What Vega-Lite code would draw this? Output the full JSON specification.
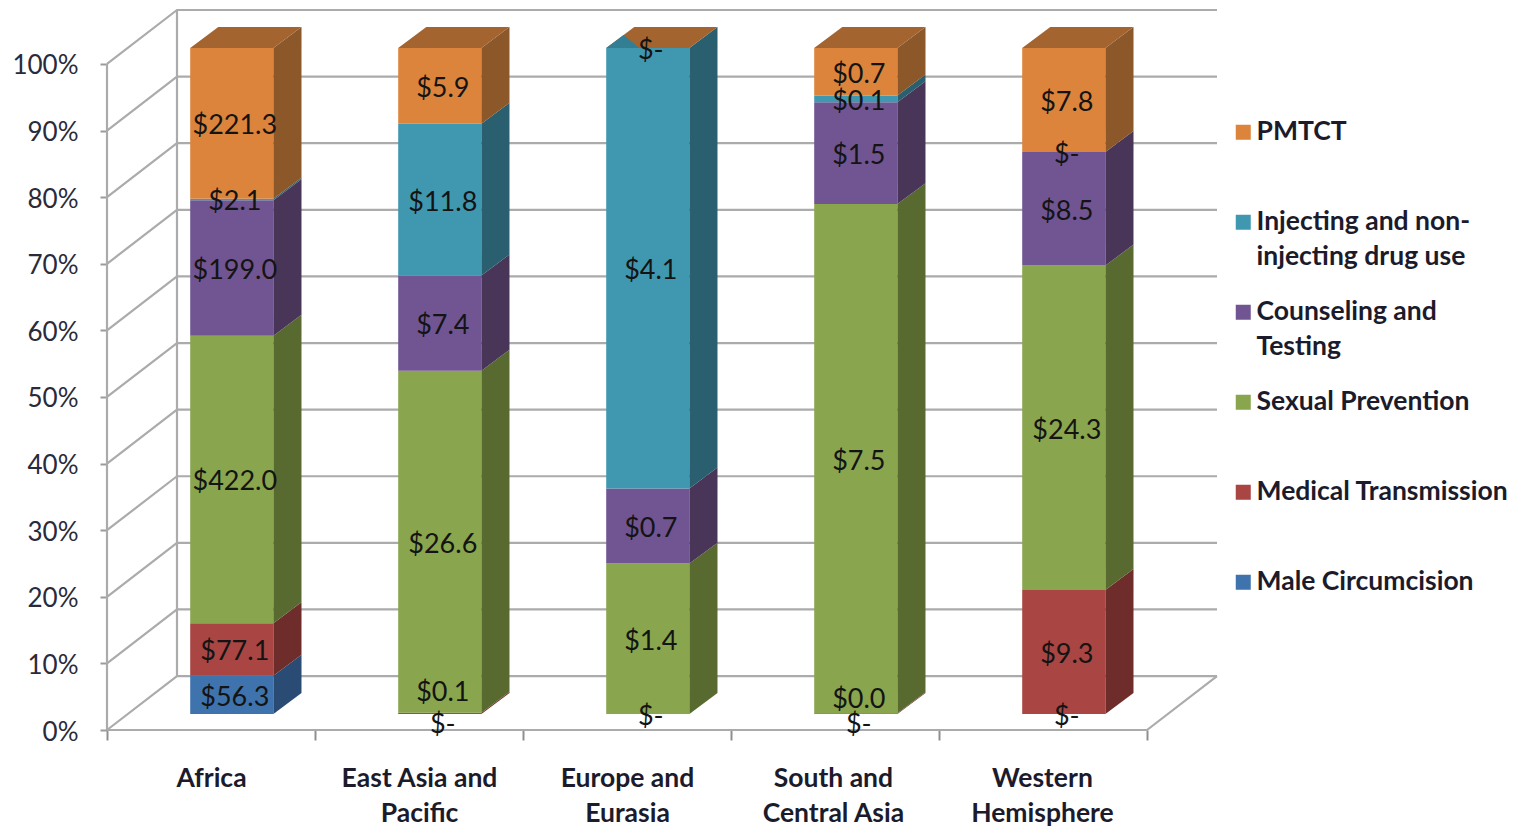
{
  "$schema": "https://vega.github.io/schema/vega-lite/v6.json",
  "width": 1111,
  "height": 720,
  "padding": {"left": 107, "top": 10, "right": 300, "bottom": 98},
  "autosize": "none",
  "background": "white",
  "config": {
    "view": {"stroke": null},
    "text": {"font": "Lato"},
    "axis": {"labelFont": "Lato", "grid": false, "domain": false, "title": null}
  },
  "datasets": {
    "spending": [
      {"region": "Africa", "measure": "Male Circumcision", "amount": 56.3, "label": "$56.3"},
      {"region": "Africa", "measure": "Medical Transmission", "amount": 77.1, "label": "$77.1"},
      {"region": "Africa", "measure": "Sexual Prevention", "amount": 422.0, "label": "$422.0"},
      {"region": "Africa", "measure": "Counseling and Testing", "amount": 199.0, "label": "$199.0"},
      {"region": "Africa", "measure": "Injecting and non-injecting drug use", "amount": 2.1, "label": "$2.1"},
      {"region": "Africa", "measure": "PMTCT", "amount": 221.3, "label": "$221.3"},
      {"region": "East Asia and Pacific", "measure": "Male Circumcision", "amount": 0, "label": "$-"},
      {"region": "East Asia and Pacific", "measure": "Medical Transmission", "amount": 0.1, "label": "$0.1"},
      {"region": "East Asia and Pacific", "measure": "Sexual Prevention", "amount": 26.6, "label": "$26.6"},
      {"region": "East Asia and Pacific", "measure": "Counseling and Testing", "amount": 7.4, "label": "$7.4"},
      {"region": "East Asia and Pacific", "measure": "Injecting and non-injecting drug use", "amount": 11.8, "label": "$11.8"},
      {"region": "East Asia and Pacific", "measure": "PMTCT", "amount": 5.9, "label": "$5.9"},
      {"region": "Europe and Eurasia", "measure": "Male Circumcision", "amount": 0, "label": "$-"},
      {"region": "Europe and Eurasia", "measure": "Medical Transmission", "amount": 0, "label": ""},
      {"region": "Europe and Eurasia", "measure": "Sexual Prevention", "amount": 1.4, "label": "$1.4"},
      {"region": "Europe and Eurasia", "measure": "Counseling and Testing", "amount": 0.7, "label": "$0.7"},
      {"region": "Europe and Eurasia", "measure": "Injecting and non-injecting drug use", "amount": 4.1, "label": "$4.1"},
      {"region": "Europe and Eurasia", "measure": "PMTCT", "amount": 0, "label": "$-"},
      {"region": "South and Central Asia", "measure": "Male Circumcision", "amount": 0, "label": "$-"},
      {"region": "South and Central Asia", "measure": "Medical Transmission", "amount": 0.01, "label": "$0.0"},
      {"region": "South and Central Asia", "measure": "Sexual Prevention", "amount": 7.5, "label": "$7.5"},
      {"region": "South and Central Asia", "measure": "Counseling and Testing", "amount": 1.5, "label": "$1.5"},
      {"region": "South and Central Asia", "measure": "Injecting and non-injecting drug use", "amount": 0.1, "label": "$0.1"},
      {"region": "South and Central Asia", "measure": "PMTCT", "amount": 0.7, "label": "$0.7"},
      {"region": "Western Hemisphere", "measure": "Male Circumcision", "amount": 0, "label": "$-"},
      {"region": "Western Hemisphere", "measure": "Medical Transmission", "amount": 9.3, "label": "$9.3"},
      {"region": "Western Hemisphere", "measure": "Sexual Prevention", "amount": 24.3, "label": "$24.3"},
      {"region": "Western Hemisphere", "measure": "Counseling and Testing", "amount": 8.5, "label": "$8.5"},
      {"region": "Western Hemisphere", "measure": "Injecting and non-injecting drug use", "amount": 0, "label": "$-"},
      {"region": "Western Hemisphere", "measure": "PMTCT", "amount": 7.8, "label": "$7.8"}
    ],
    "frame": [
      {"path": "floor", "step": 0, "col": 0, "depth": 0, "pct": 0},
      {"path": "floor", "step": 1, "col": 5, "depth": 0, "pct": 0},
      {"path": "floor", "step": 2, "col": 5, "depth": 1, "pct": 0},
      {"path": "front corner", "step": 0, "col": 0, "depth": 0, "pct": 0},
      {"path": "front corner", "step": 1, "col": 0, "depth": 0, "pct": 100},
      {"path": "back corner", "step": 0, "col": 0, "depth": 1, "pct": 0},
      {"path": "back corner", "step": 1, "col": 0, "depth": 1, "pct": 100}
    ],
    "grid": [
      {"pct": 0}, {"pct": 10}, {"pct": 20}, {"pct": 30}, {"pct": 40}, {"pct": 50},
      {"pct": 60}, {"pct": 70}, {"pct": 80}, {"pct": 90}, {"pct": 100}
    ]
  },
  "layer": [
    {
      "data": {"name": "grid"},
      "transform": [
        {"calculate": "[0, 1, 2]", "as": "step"},
        {"flatten": ["step"]},
        {"calculate": "datum.step == 0 ? 0 : datum.step == 1 ? 0.3365 : 5.3365", "as": "gx"},
        {"calculate": "datum.pct + (datum.step == 0 ? 0 : 8.1)", "as": "gy"}
      ],
      "mark": {"type": "line", "color": "#ababab", "strokeWidth": 2.2},
      "encoding": {
        "x": {
          "field": "gx", "type": "quantitative",
          "scale": {"domain": [0, 5.3413], "nice": false, "zero": false},
          "axis": {
            "values": [0, 0.5, 1, 1.5, 2, 2.5, 3, 3.49, 4, 4.495, 5],
            "tickSize": 10,
            "tickWidth": 2,
            "tickColor": "#8f8f8f",
            "tickOpacity": {"condition": {"test": "datum.value % 1 == 0", "value": 1}, "value": 0},
            "labelColor": "#1b1b2b",
            "labelFontSize": 26.5,
            "labelFontWeight": "bold",
            "labelLineHeight": 35,
            "labelPadding": 25,
            "labelOverlap": false,
            "labelFlush": false,
            "labelExpr": "datum.value == 0.5 ? 'Africa' : datum.value == 1.5 ? ['East Asia and', 'Pacific'] : datum.value == 2.5 ? ['Europe and', 'Eurasia'] : datum.value == 3.49 ? ['South and', 'Central Asia'] : datum.value == 4.495 ? ['Western', 'Hemisphere'] : ''"
          }
        },
        "y": {
          "field": "gy", "type": "quantitative",
          "scale": {"domain": [0, 108.1], "nice": false, "zero": false},
          "axis": {
            "values": [0, 10, 20, 30, 40, 50, 60, 70, 80, 90, 100],
            "labelExpr": "datum.value + '%'",
            "tickSize": 7,
            "tickWidth": 2,
            "tickColor": "#9a9a9a",
            "labelColor": "#2a2a3a",
            "labelFontSize": 26,
            "labelOffset": 2,
            "labelPadding": 22
          }
        },
        "detail": {"field": "pct"},
        "order": {"field": "step"}
      }
    },
    {
      "data": {"name": "frame"},
      "transform": [
        {"calculate": "datum.col + datum.depth * 0.3365", "as": "gx"},
        {"calculate": "datum.pct + datum.depth * 8.1", "as": "gy"}
      ],
      "mark": {"type": "line", "color": "#ababab", "strokeWidth": 2.2},
      "encoding": {
        "x": {"field": "gx", "type": "quantitative"},
        "y": {"field": "gy", "type": "quantitative"},
        "detail": {"field": "path"},
        "order": {"field": "step"}
      }
    },
    {
      "data": {"name": "spending"},
      "transform": [
        {"calculate": "indexof(['Male Circumcision','Medical Transmission','Sexual Prevention','Counseling and Testing','Injecting and non-injecting drug use','PMTCT'], datum.measure)", "as": "rank"},
        {"calculate": "indexof(['Africa','East Asia and Pacific','Europe and Eurasia','South and Central Asia','Western Hemisphere'], datum.region)", "as": "col"},
        {"stack": "amount", "groupby": ["region"], "sort": [{"field": "rank", "order": "ascending"}], "as": ["s0", "s1"], "offset": "normalize"},
        {"calculate": "datum.col + 0.4", "as": "left"},
        {"calculate": "datum.col + 0.8", "as": "right"},
        {"calculate": "datum.s0 * 100 + 2.4", "as": "low"},
        {"calculate": "datum.s1 * 100 + 2.4", "as": "high"}
      ],
      "layer": [
        {
          "mark": {"type": "rect"},
          "encoding": {
            "x": {"field": "left", "type": "quantitative"},
            "x2": {"field": "right"},
            "y": {"field": "low", "type": "quantitative"},
            "y2": {"field": "high"},
            "color": {
              "field": "measure", "type": "nominal",
              "scale": {
                "domain": ["PMTCT", "Injecting and non-injecting drug use", "Counseling and Testing", "Sexual Prevention", "Medical Transmission", "Male Circumcision"],
                "range": ["#dc843b", "#4098b0", "#715592", "#89a54e", "#a94543", "#3f73ae"]
              },
              "legend": {
                "orient": "none",
                "legendX": 1123,
                "legendY": 109,
                "title": null,
                "symbolType": "square",
                "symbolSize": 225,
                "symbolStrokeWidth": 0,
                "symbolOpacity": 1,
                "labelFont": "Lato",
                "labelFontSize": 26.5,
                "labelFontWeight": "bold",
                "labelColor": "#1b1b2b",
                "labelLimit": 320,
                "labelOffset": 0,
                "labelBaseline": "top",
                "labelExpr": "datum.label == 'Injecting and non-injecting drug use' ? ['Injecting and non-', 'injecting drug use'] : datum.label == 'Counseling and Testing' ? ['Counseling and', 'Testing'] : datum.label",
                "gridAlign": "all",
                "rowPadding": 28,
                "encoding": {"labels": {"lineHeight": {"value": 35}, "dy": {"value": -13}}}
              }
            }
          }
        },
        {
          "transform": [
            {"calculate": "[0, 1]", "as": "edge"},
            {"flatten": ["edge"]},
            {"calculate": "datum.right + datum.edge * 0.135", "as": "sx"},
            {"calculate": "datum.low + datum.edge * 3.15", "as": "sy0"},
            {"calculate": "datum.high + datum.edge * 3.15", "as": "sy1"}
          ],
          "mark": {"type": "area"},
          "encoding": {
            "x": {"field": "sx", "type": "quantitative"},
            "y": {"field": "sy0", "type": "quantitative"},
            "y2": {"field": "sy1"},
            "fill": {
              "field": "measure", "type": "nominal",
              "scale": {
                "domain": ["PMTCT", "Injecting and non-injecting drug use", "Counseling and Testing", "Sexual Prevention", "Medical Transmission", "Male Circumcision"],
                "range": ["#8c5729", "#295f6f", "#483558", "#596a31", "#6e2d2b", "#2a4b73"]
              },
              "legend": null
            },
            "detail": {"field": "region"}
          }
        },
        {
          "transform": [
            {"filter": "datum.measure == 'PMTCT'"},
            {"calculate": "[0, 1]", "as": "edge"},
            {"flatten": ["edge"]},
            {"calculate": "datum.left + datum.edge * 0.135", "as": "tx0"},
            {"calculate": "datum.right + datum.edge * 0.135", "as": "tx1"},
            {"calculate": "datum.high + datum.edge * 3.15", "as": "ty"}
          ],
          "mark": {"type": "area", "orient": "horizontal", "color": "#a3642f"},
          "encoding": {
            "y": {"field": "ty", "type": "quantitative"},
            "x": {"field": "tx0", "type": "quantitative"},
            "x2": {"field": "tx1"},
            "detail": {"field": "region"}
          }
        },
        {
          "transform": [
            {"filter": "datum.measure == 'PMTCT' && datum.amount == 0"},
            {"calculate": "[0, 0.62]", "as": "edge"},
            {"flatten": ["edge"]},
            {"calculate": "datum.left + datum.edge * 0.135", "as": "tx0"},
            {"calculate": "datum.left + 0.16 * (1 - datum.edge / 0.62) + datum.edge * 0.135", "as": "tx1"},
            {"calculate": "datum.high + datum.edge * 3.15", "as": "ty"}
          ],
          "mark": {"type": "area", "orient": "horizontal", "color": "#327f93"},
          "encoding": {
            "y": {"field": "ty", "type": "quantitative"},
            "x": {"field": "tx0", "type": "quantitative"},
            "x2": {"field": "tx1"},
            "detail": {"field": "region"}
          }
        },
        {
          "transform": [
            {"filter": "datum.label != ''"},
            {"calculate": "(datum.low + datum.high) / 2 + (datum.amount == 0 && datum.rank == 0 && (datum.col == 1 || datum.col == 3) ? -1.2 : datum.rank == 1 && datum.col == 1 ? 3.45 : datum.rank == 1 && datum.col == 3 ? 2.55 : 0)", "as": "labelY"},
            {"calculate": "datum.col + 0.6", "as": "labelX"}
          ],
          "mark": {"type": "text", "font": "Lato", "fontSize": 27, "color": "#141414", "align": "center", "baseline": "middle", "dx": 3, "dy": 3},
          "encoding": {
            "x": {"field": "labelX", "type": "quantitative"},
            "y": {"field": "labelY", "type": "quantitative"},
            "text": {"field": "label"}
          }
        }
      ]
    }
  ]
}
